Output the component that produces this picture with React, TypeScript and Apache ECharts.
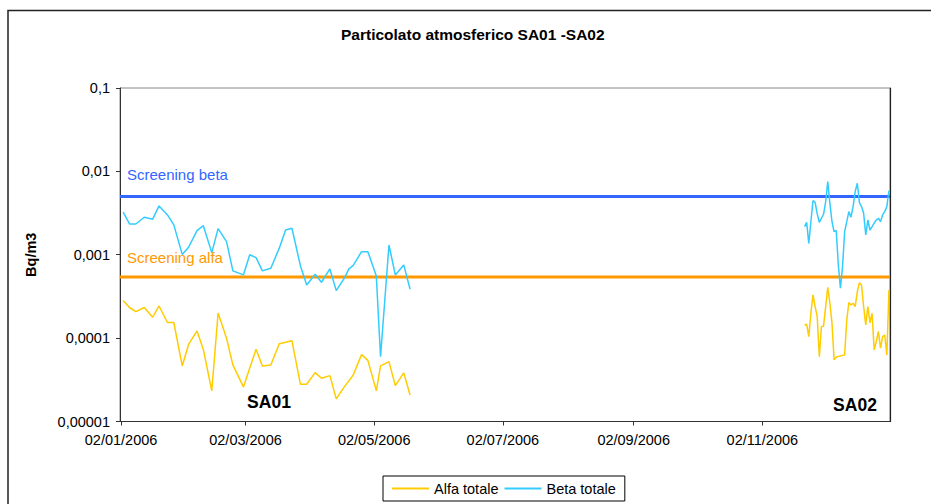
import React, { useEffect, useRef } from 'react';
import * as echarts from 'echarts';

const FONT = 'Arial, "Liberation Sans", sans-serif';

// ---------- data ----------
const sa01Dates = [
  '2006-01-03', '2006-01-06', '2006-01-09', '2006-01-13', '2006-01-17', '2006-01-20', '2006-01-24', '2006-01-27', '2006-01-31',
  '2006-02-03', '2006-02-07', '2006-02-10', '2006-02-14', '2006-02-17', '2006-02-21', '2006-02-24',
  '2006-03-01', '2006-03-04', '2006-03-07', '2006-03-10', '2006-03-14', '2006-03-18', '2006-03-21', '2006-03-24', '2006-03-28', '2006-03-31',
  '2006-04-04', '2006-04-07', '2006-04-11', '2006-04-14', '2006-04-18', '2006-04-20', '2006-04-22', '2006-04-26', '2006-04-29',
  '2006-05-03', '2006-05-05', '2006-05-09', '2006-05-12', '2006-05-16', '2006-05-19',
];
const sa01Beta = [
  0.00324, 0.00234, 0.00234, 0.00282, 0.00267, 0.00385, 0.0030, 0.00228, 0.00101, 0.00123,
  0.00195, 0.00223, 0.00106, 0.00206, 0.00144, 0.00064, 0.000573, 0.00100, 0.000923, 0.00064,
  0.000689, 0.00120, 0.00198, 0.00208, 0.00074, 0.000434, 0.000584, 0.000468, 0.000676, 0.000371,
  0.000531, 0.000676, 0.00074, 0.00109, 0.00109, 0.000557, 0.00006, 0.00131, 0.000573, 0.000755, 0.000386,
];
const sa01Alfa = [
  0.000283, 0.000233, 0.000208, 0.000233, 0.000178, 0.000243, 0.000154, 0.000154, 0.0000464, 0.000084,
  0.000122, 0.0000732, 0.0000233, 0.0002, 0.0000998, 0.0000477, 0.000026, null, 0.0000736, 0.0000464,
  0.0000477, 0.0000857, 0.0000893, 0.0000931, 0.000028, 0.000028, 0.0000386, 0.000033, 0.0000355, 0.0000187,
  0.0000264, null, 0.0000359, 0.0000634, 0.0000541, 0.0000233, 0.0000464, 0.0000523, 0.0000269, 0.0000383, 0.0000208,
];

const sa02Dates = [
  '2006-11-22', '2006-11-23', '2006-11-24', '2006-11-25', '2006-11-26', '2006-11-27', '2006-11-28', '2006-11-29', '2006-11-30',
  '2006-12-01', '2006-12-02', '2006-12-03', '2006-12-04', '2006-12-05', '2006-12-06', '2006-12-07', '2006-12-08', '2006-12-09', '2006-12-10',
  '2006-12-11', '2006-12-12', '2006-12-13', '2006-12-14', '2006-12-15', '2006-12-16', '2006-12-17', '2006-12-18', '2006-12-19', '2006-12-20',
  '2006-12-21', '2006-12-22', '2006-12-23', '2006-12-24', '2006-12-25', '2006-12-26', '2006-12-27', '2006-12-28', '2006-12-29', '2006-12-30',
  '2006-12-31', '2007-01-01',
];
const sa02Beta = [
  0.00217, 0.00245, 0.00137, 0.00249, 0.00445, 0.00426, 0.00309, 0.00245, 0.00274, 0.00306,
  0.00433, 0.00752, 0.00414, 0.00249, 0.00189, 0.00195, 0.000755, 0.000397, 0.00072, 0.00189,
  0.00249, 0.00329, 0.00282, 0.00378, 0.00571, 0.0072, 0.00421, 0.00378, 0.00315, 0.00173,
  0.00261, 0.00198, 0.00217, 0.00239, 0.00261, 0.00274, 0.00249, 0.003, 0.00329, 0.00378, 0.00587,
];
const sa02Alfa = [
  0.000144, 0.000147, 0.000104, 0.000199, 0.00033, 0.000239, 0.000181, 0.00006, 0.000137, 0.00014,
  0.000239, 0.000407, 0.000262, 0.000151, 0.0000548, 0.000059, 0.0000604, 0.0000612, 0.0000621, 0.0000629,
  0.000165, 0.000267, 0.00025, 0.000262, 0.000239, 0.000361, 0.000463, 0.000434, 0.000239, 0.000144,
  0.000239, 0.000153, 0.000199, 0.0000722, 0.0000908, 0.00012, 0.0000757, 0.000104, 0.000109, 0.0000629, 0.000378,
];

const screeningBeta = 0.005;
const screeningAlfa = 0.00054;
const screeningNames = ['Screening beta', 'Screening alfa'];

const xTickDates = ['2006-01-02', '2006-03-02', '2006-05-02', '2006-07-02', '2006-09-02', '2006-11-02'];
const yTickLabels = ['0,00001', '0,0001', '0,001', '0,01', '0,1'];

const seriesNames = ['Alfa totale', 'Beta totale'];
const stationLabels = ['SA01', 'SA02'];

// ---------- helpers ----------
const ts = (s: string, h = 0) => {
  const [y, m, d] = s.split('-').map(Number);
  return new Date(y, m - 1, d, h).getTime();
};
const pair = (dates: string[], vals: (number | null)[]) => dates.map((d, i) => [ts(d), vals[i]]);
const pad = (n: number) => (n < 10 ? '0' + n : '' + n);

const ALFA = '#FFCC00';
const BETA = '#33CCFF';
const X_MIN = ts('2006-01-01', 12);
const X_MAX = ts('2007-01-01', 12);

export default function App() {
  const ref = useRef<HTMLDivElement>(null);
  useEffect(() => {
    const chart = echarts.init(ref.current!, null, { renderer: 'svg' });
    const lineBase = {
      type: 'line',
      showSymbol: false,
      symbol: 'none',
      connectNulls: true,
      silent: true,
    };
    const screening = (name: string, value: number, color: string, dy: number) => ({
      type: 'line',
      name,
      silent: true,
      symbol: 'circle',
      symbolSize: 0.01,
      showSymbol: true,
      z: 3,
      lineStyle: { color, width: 3 },
      itemStyle: { color },
      data: [
        {
          value: [X_MIN, value],
          label: {
            show: true,
            position: 'right',
            offset: [2, dy],
            formatter: name,
            color,
            fontFamily: FONT,
            fontSize: 15,
          },
        },
        { value: [X_MAX, value], label: { show: false } },
      ],
    });
    chart.setOption({
      animation: false,
      backgroundColor: '#fff',
      textStyle: { fontFamily: FONT },
      title: {
        text: 'Particolato atmosferico SA01 -SA02',
        left: 341,
        top: 26,
        padding: 0,
        textStyle: { fontFamily: FONT, fontSize: 15.5, fontWeight: 'bold', color: '#000' },
      },
      legend: {
        left: 383,
        top: 476,
        data: seriesNames,
        icon: 'rect',
        itemWidth: 37,
        itemHeight: 2,
        itemGap: 6,
        padding: [5, 9, 5, 9],
        borderColor: '#000',
        borderWidth: 1,
        textStyle: { fontFamily: FONT, fontSize: 14.5, color: '#000' },
      },
      grid: {
        left: 120,
        right: 41,
        top: 88,
        bottom: 82.5,
        show: true,
        borderColor: '#888',
        borderWidth: 1,
      },
      xAxis: {
        type: 'value',
        min: X_MIN,
        max: X_MAX,
        splitLine: { show: false },
        axisLine: { show: true, onZero: false, lineStyle: { color: '#333', width: 1 } },
        axisTick: {
          show: true,
          length: 4,
          customValues: xTickDates.map((d) => ts(d)),
          lineStyle: { color: '#333' },
        },
        axisLabel: {
          customValues: xTickDates.map((d) => ts(d)),
          margin: 11,
          fontFamily: FONT,
          fontSize: 14.5,
          color: '#000',
          formatter: (v: number) => {
            const d = new Date(v);
            return pad(d.getDate()) + '/' + pad(d.getMonth() + 1) + '/' + d.getFullYear();
          },
        },
      },
      yAxis: [
        {
          type: 'log',
          logBase: 10,
          min: 0.00001,
          max: 0.1,
          name: 'Bq/m3',
          nameLocation: 'middle',
          nameRotate: 90,
          nameGap: 82,
          nameTextStyle: { fontFamily: FONT, fontSize: 14.5, fontWeight: 'bold', color: '#000' },
          splitLine: { show: false },
          axisLine: { show: true, lineStyle: { color: '#333', width: 1 } },
          axisTick: { show: true, length: 4, lineStyle: { color: '#333' } },
          axisLabel: {
            margin: 10,
            fontFamily: FONT,
            fontSize: 14.5,
            color: '#000',
            formatter: (v: number) => {
              const k = Math.round(Math.log10(v)) + 5;
              return yTickLabels[k] ?? '';
            },
          },
        },
        {
          type: 'value',
          position: 'right',
          axisLine: { show: true, lineStyle: { color: '#222', width: 1.2 } },
          axisTick: { show: false },
          axisLabel: { show: false },
          splitLine: { show: false },
        },
      ],
      series: [
        screening(screeningNames[0], screeningBeta, '#3366FF', -22),
        screening(screeningNames[1], screeningAlfa, '#FF9900', -20),
        {
          ...lineBase,
          name: seriesNames[0],
          data: pair(sa01Dates, sa01Alfa),
          lineStyle: { color: ALFA, width: 1.5 },
          itemStyle: { color: ALFA },
        },
        {
          ...lineBase,
          name: seriesNames[0],
          data: pair(sa02Dates, sa02Alfa),
          lineStyle: { color: ALFA, width: 1.5 },
          itemStyle: { color: ALFA },
        },
        {
          ...lineBase,
          name: seriesNames[1],
          data: pair(sa01Dates, sa01Beta),
          lineStyle: { color: BETA, width: 1.5 },
          itemStyle: { color: BETA },
        },
        {
          ...lineBase,
          name: seriesNames[1],
          data: pair(sa02Dates, sa02Beta),
          lineStyle: { color: BETA, width: 1.5 },
          itemStyle: { color: BETA },
        },
      ],
      graphic: [
        {
          type: 'rect',
          shape: { x: 8, y: 10.5, width: 960, height: 600 },
          style: { fill: 'none', stroke: '#222', lineWidth: 1.5 },
          silent: true,
        },
        {
          type: 'text',
          x: 269,
          y: 402,
          style: {
            text: stationLabels[0],
            font: 'bold 17.5px ' + FONT,
            fill: '#000',
            align: 'center',
            verticalAlign: 'middle',
            textAlign: 'center',
            textVerticalAlign: 'middle',
          },
        },
        {
          type: 'text',
          x: 855,
          y: 405,
          style: {
            text: stationLabels[1],
            font: 'bold 17.5px ' + FONT,
            fill: '#000',
            align: 'center',
            verticalAlign: 'middle',
            textAlign: 'center',
            textVerticalAlign: 'middle',
          },
        },
      ],
    });
    return () => chart.dispose();
  }, []);
  return (
    <div
      ref={ref}
      style={{ position: 'absolute', left: 0, top: 0, width: 931, height: 504, background: '#fff' }}
    />
  );
}
